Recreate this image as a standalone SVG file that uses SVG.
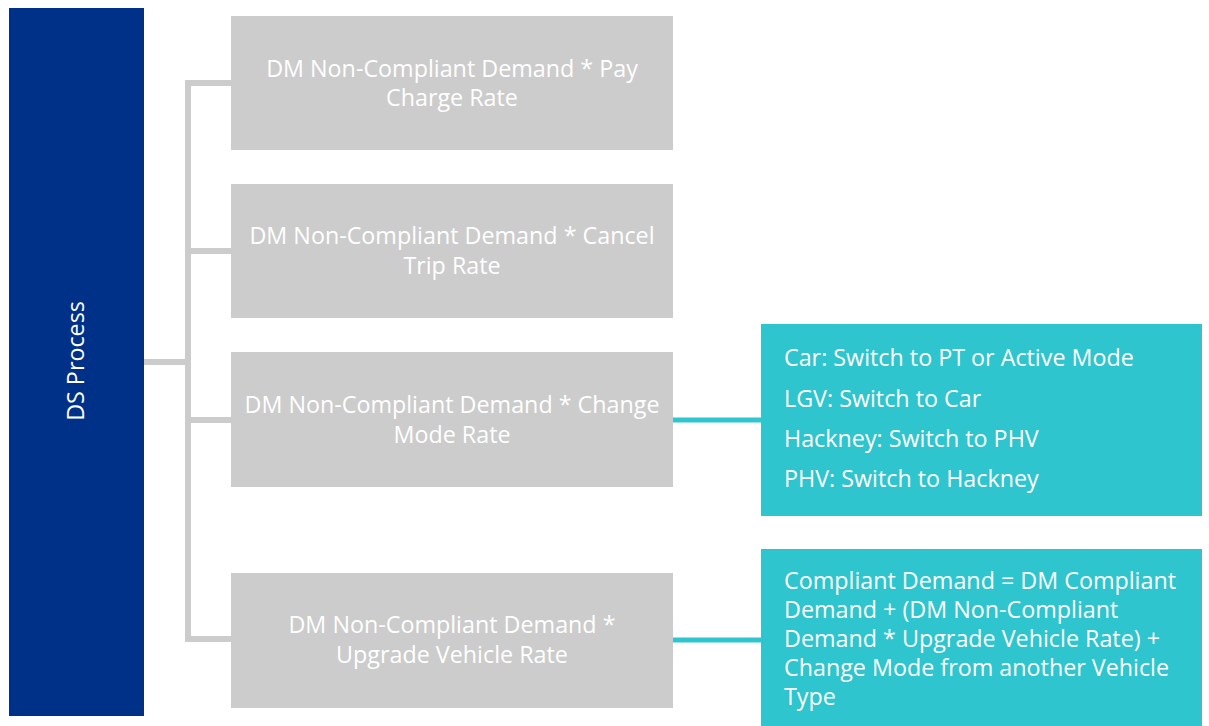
<svg xmlns="http://www.w3.org/2000/svg" width="1209" height="726" viewBox="0 0 1209 726">
<style>
.t{font-family:"Open Sans","Liberation Sans",sans-serif;font-size:23.3px;fill:#ffffff}
.c{text-anchor:middle}
.g{fill:#cccccc}
.teal{fill:#2ec5ce}
.gl{stroke:#cccccc;stroke-width:6;fill:none}
.tl{stroke:#2ec5ce;stroke-width:5;fill:none}
</style>
<g id="connectors">
<path class="gl" d="M144 362H188M231 83H188V639H231M188 251H231M188 420H231"/>
<path class="tl" d="M673 420H761M673 640H761"/>
</g>
<g id="ds-process">
<rect x="9" y="8" width="135" height="708" fill="#003189"/>
<text class="t c" transform="translate(84 361) rotate(-90)">DS Process</text>
</g>
<g id="pay-charge">
<rect class="g" x="231" y="16" width="442" height="134"/>
<text class="t c" x="452" y="77">DM Non-Compliant Demand * Pay</text>
<text class="t c" x="452" y="106">Charge Rate</text>
</g>
<g id="cancel-trip">
<rect class="g" x="231" y="184" width="442" height="134"/>
<text class="t c" x="452" y="244">DM Non-Compliant Demand * Cancel</text>
<text class="t c" x="452" y="274">Trip Rate</text>
</g>
<g id="change-mode">
<rect class="g" x="231" y="352" width="442" height="135"/>
<text class="t c" x="452" y="413">DM Non-Compliant Demand * Change</text>
<text class="t c" x="452" y="443">Mode Rate</text>
</g>
<g id="upgrade-vehicle">
<rect class="g" x="231" y="573" width="442" height="135"/>
<text class="t c" x="452" y="633">DM Non-Compliant Demand *</text>
<text class="t c" x="452" y="663">Upgrade Vehicle Rate</text>
</g>
<g id="mode-switch">
<rect class="teal" x="761" y="324" width="441" height="192"/>
<text class="t" x="784" y="366">Car: Switch to PT or Active Mode</text>
<text class="t" x="784" y="407">LGV: Switch to Car</text>
<text class="t" x="784" y="447">Hackney: Switch to PHV</text>
<text class="t" x="784" y="487">PHV: Switch to Hackney</text>
</g>
<g id="compliant-demand">
<rect class="teal" x="761" y="549" width="441" height="177"/>
<text class="t" x="784" y="589">Compliant Demand = DM Compliant</text>
<text class="t" x="784" y="618">Demand + (DM Non-Compliant</text>
<text class="t" x="784" y="647">Demand * Upgrade Vehicle Rate) +</text>
<text class="t" x="784" y="676">Change Mode from another Vehicle</text>
<text class="t" x="784" y="705">Type</text>
</g>
</svg>
